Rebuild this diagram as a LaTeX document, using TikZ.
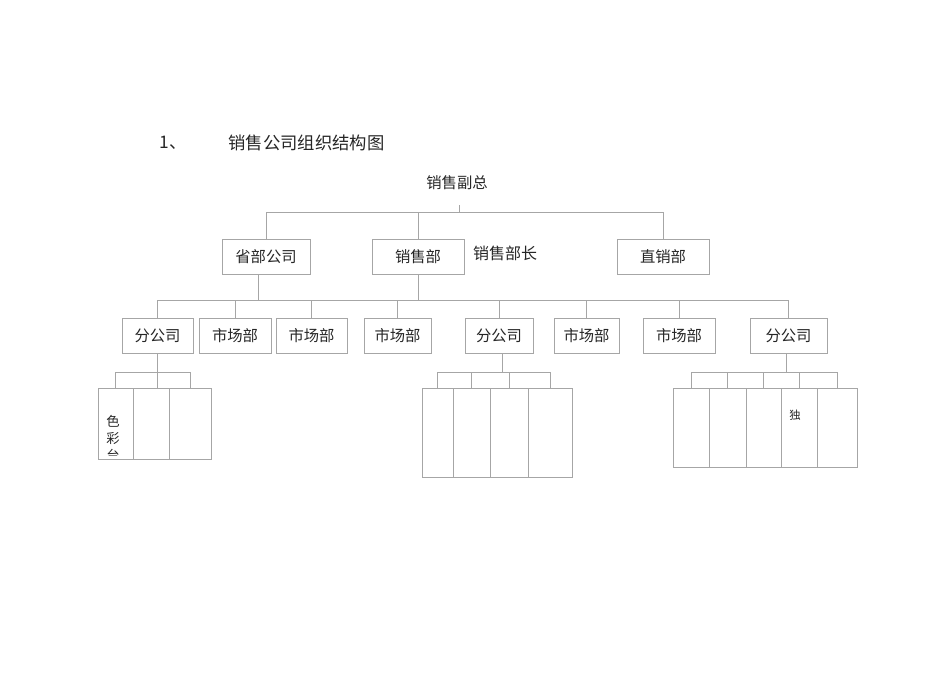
\documentclass[tikz,border=0pt]{standalone}
\usepackage{fontspec}
\setmainfont{Noto Sans CJK SC}
\def\pxu{0.75pt}

\begin{document}
\begin{tikzpicture}[x=\pxu, y=-\pxu, draw=black!35, line width=0.6pt]
    \tikzstyle{txt}=[text=black!85, inner sep=0pt, font=\fontsize{11.5}{13}\selectfont]
    \tikzstyle{dept}=[txt, draw, minimum height=35*\pxu]
    \tikzstyle{cell}=[draw, inner sep=0pt]
    \useasboundingbox (0,0) rectangle (950,672);

    % Title
    \node[txt, anchor=west, font=\fontsize{13}{15}\selectfont] (T-1) at (159,143) {1、};
    \node[txt, anchor=west, font=\fontsize{13}{15}\selectfont] (T-2) at (228,143) {销售公司组织结构图};

    \node[txt] (VP) at (457,183) {销售副总};
    \coordinate (VP-stem) at (459,205);
    \coordinate (top-bus) at (459,212);

    \node[dept, minimum width=88*\pxu] (L1-1) at (266,256.5) {省部公司};
    \node[dept, minimum width=92*\pxu] (L1-2) at (418,256.5) {销售部};
    \node[dept, minimum width=92*\pxu] (L1-3) at (663,256.5) {直销部};
    \node[txt, font=\fontsize{12}{14}\selectfont] (head) at (505,253) {销售部长};

    \foreach \x/\w/\t [count=\i] in {157.5/71/分公司, 235/72/市场部, 311.5/71/市场部,
        397.5/67/市场部, 499/68/分公司, 586.5/65/市场部, 679/72/市场部, 788.5/77/分公司}
        \node[dept, minimum width=\w*\pxu] (L2-\i) at (\x,335.5) {\t};
    \coordinate (bus2) at (418,300);

    % Sub units under the three branch offices
    \foreach \l/\r [count=\i] in {98/133, 133/169, 169/211}
        \node[cell, minimum width=(\r-\l)*\pxu, minimum height=71*\pxu] (A-\i) at ({(\l+\r)/2},423.5) {};
    \foreach \l/\r [count=\i] in {422/453, 453/490, 490/528, 528/572}
        \node[cell, minimum width=(\r-\l)*\pxu, minimum height=89*\pxu] (B-\i) at ({(\l+\r)/2},432.5) {};
    \foreach \l/\r [count=\i] in {673/709, 709/746, 746/781, 781/817, 817/857}
        \node[cell, minimum width=(\r-\l)*\pxu, minimum height=79*\pxu] (C-\i) at ({(\l+\r)/2},427.5) {};
    \coordinate (A-bus) at (157,372);
    \coordinate (B-bus) at (502,372);
    \coordinate (C-bus) at (786,372);

    \begin{scope}
        \clip (A-1.north west) rectangle (A-1.east |- 0,455);
        \node[txt, align=center, font=\fontsize{10}{12.75}\selectfont] (A-text) at (113,438.5) {色\\彩\\台};
    \end{scope}
    \node[txt, font=\fontsize{8.5}{10}\selectfont] (C-text) at (795,415) {独};

    % Connectors
    \draw (VP-stem) -- (top-bus);
    \foreach \i in {1,...,3}
        \draw (L1-\i.north) |- (top-bus);

    \draw ([xshift=-8*\pxu]L1-1.south) |- (bus2);
    \draw (L1-2.south) -- (bus2);
    \foreach \i in {1,...,8}
        \draw (L2-\i.north) |- (bus2);

    \draw (L2-1.south -| A-bus) -- (A-2.north -| A-bus);
    \draw (A-1.north) |- (A-bus);
    \draw (A-3.north) |- (A-bus);
    \draw (L2-5.south -| B-bus) -- (B-bus);
    \foreach \i in {1,...,4}
        \draw (B-\i.north) |- (B-bus);
    \draw (L2-8.south -| C-bus) -- (C-bus);
    \foreach \i in {1,...,5}
        \draw (C-\i.north) |- (C-bus);

\end{tikzpicture}
\end{document}
